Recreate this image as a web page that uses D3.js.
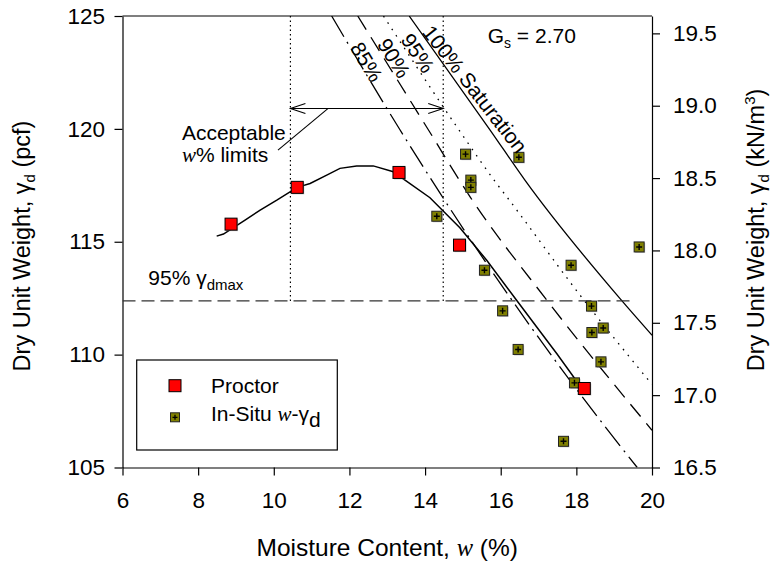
<!DOCTYPE html>
<html><head><meta charset="utf-8">
<script src="https://cdn.jsdelivr.net/npm/d3@7"></script>
<style>
body{margin:0;background:#fff;}
text{font-family:Arial,"Liberation Sans",sans-serif;fill:#000;}
.it{font-family:"Liberation Serif","Times New Roman",serif;font-style:italic;}
</style></head>
<body><svg id="c" width="774" height="564"></svg>
<script>
// ---- data ----
const xTicks = [6, 8, 10, 12, 14, 16, 18, 20];
const yTicksPcf = [105, 110, 115, 120, 125];
const yTicksKn = [16.5, 17.0, 17.5, 18.0, 18.5, 19.0, 19.5];

const proctorW  = [8.87, 10.62, 13.31, 14.91, 18.21];
const proctorGd = [115.78, 117.41, 118.07, 114.85, 108.50];

const curveW  = [8.49, 8.67, 9.24, 9.64, 10.08, 10.62, 10.96, 11.40, 11.75, 12.19, 12.63, 13.16, 13.47, 14.13, 14.92, 15.63, 16.42, 17.35, 17.48, 18.18, 18.31];
const curveGd = [115.25, 115.34, 115.96, 116.40, 116.84, 117.41, 117.58, 117.95, 118.25, 118.36, 118.36, 118.10, 117.73, 116.95, 115.62, 114.18, 112.41, 110.34, 110.05, 108.42, 108.24];

const insituW  = [15.07, 16.48, 15.21, 15.21, 14.31, 15.57, 17.86, 16.05, 16.46, 18.40, 18.41, 18.71, 18.65, 17.95, 19.66, 17.66];
const insituGd = [118.88, 118.74, 117.73, 117.41, 116.13, 113.74, 113.96, 111.94, 110.23, 112.15, 110.98, 111.18, 109.68, 108.75, 114.77, 106.16];

const sat100W = [13.58, 15.72, 16.64, 19.15, 20.0];
const sat100Gd = [125.0, 119.95, 117.73, 112.49, 110.86];
const sat95W = [12.90, 14.97, 15.89, 16.16, 18.10, 20.0];
const sat95Gd = [125.0, 119.77, 117.58, 116.99, 112.63, 108.68];
const sat90W = [12.22, 14.09, 15.19, 17.22, 20.0];
const sat90Gd = [125.0, 119.95, 116.99, 112.41, 106.65];
const sat85W = [11.53, 13.34, 14.40, 18.80, 19.61];
const sat85Gd = [125.0, 119.95, 117.14, 106.72, 105.0];

const wLimits = [10.44, 14.48];
const gd95 = 112.38;
const gd95End = 19.46;
const arrowGd = 120.9;

// ---- layout ----
const svg = d3.select("#c");
const L = 122.5, R = 652, T = 16, B = 467.5;
const x = d3.scaleLinear().domain([6, 20]).range([L, R]);
const y = d3.scaleLinear().domain([105, 125]).range([B, T]);
const y2 = d3.scaleLinear().domain([16.5, 19.62]).range([B, T]);

svg.append("defs").append("clipPath").attr("id","clip")
  .append("rect").attr("x",L).attr("y",T).attr("width",R-L).attr("height",B-T);

const fsTick = 22.5, fsTitle = 23.5, fsAnn = 21;

// axes
const ax = svg.append("g").attr("transform",`translate(0,${B})`)
  .call(d3.axisBottom(x).tickValues(xTicks).tickSize(8).tickSizeOuter(0).tickPadding(16.5).tickFormat(d3.format("d")));
const ay = svg.append("g").attr("transform",`translate(${L},0)`)
  .call(d3.axisLeft(y).tickValues(yTicksPcf).tickSize(8).tickSizeOuter(0).tickPadding(9.5).tickFormat(d3.format("d")));
const ay2 = svg.append("g").attr("transform",`translate(${R},0)`)
  .call(d3.axisRight(y2).tickValues(yTicksKn).tickSize(8).tickSizeOuter(0).tickPadding(13).tickFormat(d3.format(".1f")));
[ax, ay, ay2].forEach(g => {
  g.selectAll("text").style("font-size", fsTick+"px").attr("fill","#000");
  g.selectAll("line,path").attr("stroke","#000").attr("stroke-width",1.2);
});
// top border
svg.append("line").attr("x1",L).attr("x2",R).attr("y1",T).attr("y2",T).attr("stroke","#000").attr("stroke-width",1.2);

const plot = svg.append("g").attr("clip-path","url(#clip)");
const lineGen = d3.line().x(d=>x(d[0])).y(d=>y(d[1]));
const smooth = d3.line().x(d=>x(d[0])).y(d=>y(d[1])).curve(d3.curveMonotoneX);

// saturation lines
function satLine(ws, gs, dash){
  plot.append("path").datum(ws.map((w,i)=>[w,gs[i]]))
    .attr("d", smooth).attr("fill","none").attr("stroke","#000").attr("stroke-width",1.3)
    .attr("stroke-dasharray", dash);
}
satLine(sat100W, sat100Gd, null);
satLine(sat95W, sat95Gd, "1.6,6");
satLine(sat90W, sat90Gd, "16,9");
satLine(sat85W, sat85Gd, "24,6,2,6");

// 95% gamma dmax line
plot.append("line").attr("x1",x(6)).attr("x2",x(gd95End)).attr("y1",y(gd95)).attr("y2",y(gd95))
  .attr("stroke","#333").attr("stroke-width",1.2).attr("stroke-dasharray","13,6");
// vertical limit lines
wLimits.forEach(w=>{
  plot.append("line").attr("x1",x(w)).attr("x2",x(w)).attr("y1",y(125)).attr("y2",y(gd95))
    .attr("stroke","#000").attr("stroke-width",1.2).attr("stroke-dasharray","1.5,3");
});
// double arrow
const ax1 = x(wLimits[0]), ax2 = x(wLimits[1]), ayy = y(arrowGd);
plot.append("line").attr("x1",ax1).attr("x2",ax2).attr("y1",ayy).attr("y2",ayy).attr("stroke","#000").attr("stroke-width",1.1);
plot.append("path").attr("d",`M${ax1+15},${ayy-5}L${ax1},${ayy}L${ax1+15},${ayy+5}`).attr("fill","none").attr("stroke","#000").attr("stroke-width",1.1);
plot.append("path").attr("d",`M${ax2-15},${ayy-5}L${ax2},${ayy}L${ax2-15},${ayy+5}`).attr("fill","none").attr("stroke","#000").attr("stroke-width",1.1);
// leader
plot.append("line").attr("x1",x(10.11)).attr("y1",y(119.06)).attr("x2",x(11.43)).attr("y2",ayy)
  .attr("stroke","#000").attr("stroke-width",1.1);

// compaction curve
plot.append("path").datum(curveW.map((w,i)=>[w,curveGd[i]]))
  .attr("d", lineGen).attr("fill","none").attr("stroke","#000").attr("stroke-width",1.5);

// in-situ markers
const insitu = insituW.map((w,i)=>[w,insituGd[i]]);
const ms = 10;
const gI = svg.append("g");
insitu.forEach(d=>{
  const cx = x(d[0]), cy = y(d[1]);
  gI.append("rect").attr("x",cx-ms/2+1).attr("y",cy-ms/2+1).attr("width",ms).attr("height",ms).attr("fill","#999").attr("opacity",0.6);
  gI.append("rect").attr("x",cx-ms/2).attr("y",cy-ms/2).attr("width",ms).attr("height",ms)
    .attr("fill","#808000").attr("stroke","#222").attr("stroke-width",1);
  gI.append("path").attr("d",`M${cx-3},${cy}H${cx+3}M${cx},${cy-3}V${cy+3}`).attr("stroke","#000").attr("stroke-width",1.4);
});
// proctor markers
const ps = 12;
proctorW.forEach((w,i)=>{
  const cx = x(w), cy = y(proctorGd[i]);
  svg.append("rect").attr("x",cx-ps/2+1).attr("y",cy-ps/2+1).attr("width",ps).attr("height",ps).attr("fill","#999").attr("opacity",0.6);
  svg.append("rect").attr("x",cx-ps/2).attr("y",cy-ps/2).attr("width",ps).attr("height",ps)
    .attr("fill","#ff0000").attr("stroke","#000").attr("stroke-width",1);
});

// saturation labels
function rotLabel(px, py, ang, txt){
  svg.append("text").attr("transform",`translate(${px},${py}) rotate(${ang})`)
    .attr("text-anchor","middle").attr("dominant-baseline","central")
    .style("font-size",fsAnn+"px").text(txt);
}
rotLabel(366.7, 62, 59, "85%");
rotLabel(394, 58, 58, "90%");
rotLabel(418, 53, 56, "95%");
rotLabel(475, 89, 52, "100% Saturation");

// Gs label
const gs = svg.append("text").attr("x",487.7).attr("y",42.7).style("font-size",fsAnn+"px");
gs.append("tspan").text("G");
gs.append("tspan").attr("baseline-shift","-5").style("font-size","14px").text("s");
gs.append("tspan").text(" = 2.70");

// acceptable label
svg.append("text").attr("x",x(7.57)).attr("y",y(119.5)).style("font-size",fsAnn+"px").text("Acceptable");
const t2 = svg.append("text").attr("x",x(7.57)).attr("y",y(118.53)).style("font-size",fsAnn+"px");
t2.append("tspan").attr("class","it").text("w");
t2.append("tspan").text("% limits");

// 95% gamma dmax label
const t3 = svg.append("text").attr("x",148.3).attr("y",y(gd95)-16).style("font-size",fsAnn+"px");
t3.append("tspan").text("95% γ");
t3.append("tspan").attr("baseline-shift","-5").style("font-size","15px").text("dmax");

// legend
svg.append("rect").attr("x",136.7).attr("y",360).attr("width",200.6).attr("height",90)
  .attr("fill","#fff").attr("stroke","#000").attr("stroke-width",1.2);
svg.append("rect").attr("x",175-6).attr("y",385.7-6).attr("width",12).attr("height",12).attr("fill","#ff0000").attr("stroke","#000");
svg.append("rect").attr("x",175-4.5).attr("y",417.3-4.5).attr("width",9).attr("height",9).attr("fill","#808000").attr("stroke","#222");
svg.append("path").attr("d",`M${175-2.5},417.3H${175+2.5}M175,${417.3-2.5}V${417.3+2.5}`).attr("stroke","#000").attr("stroke-width",1.3);
svg.append("text").attr("x",211).attr("y",393).style("font-size",fsAnn+"px").text("Proctor");
const t4 = svg.append("text").attr("x",211).attr("y",421).style("font-size",fsAnn+"px");
t4.append("tspan").text("In-Situ ");
t4.append("tspan").attr("class","it").text("w");
t4.append("tspan").text("-γ");
t4.append("tspan").attr("baseline-shift","-6").text("d");

// axis titles
const xt = svg.append("text").attr("x",(L+R)/2).attr("y",556).attr("text-anchor","middle").style("font-size","24.5px");
xt.append("tspan").text("Moisture Content, ");
xt.append("tspan").attr("class","it").text("w");
xt.append("tspan").text(" (%)");

const yt = svg.append("text").attr("transform",`translate(30,246) rotate(-90)`).attr("text-anchor","middle").style("font-size",fsTitle+"px");
yt.append("tspan").text("Dry Unit Weight, γ");
yt.append("tspan").attr("baseline-shift","-5").style("font-size","15px").text("d");
yt.append("tspan").text(" (pcf)");

const yt2 = svg.append("text").attr("transform",`translate(764,230) rotate(-90)`).attr("text-anchor","middle").style("font-size",fsTitle+"px");
yt2.append("tspan").text("Dry Unit Weight, γ");
yt2.append("tspan").attr("baseline-shift","-5").style("font-size","15px").text("d");
yt2.append("tspan").text(" (kN/m");
yt2.append("tspan").attr("baseline-shift","9").style("font-size","15px").text("3");
yt2.append("tspan").text(")");
</script></body></html>
